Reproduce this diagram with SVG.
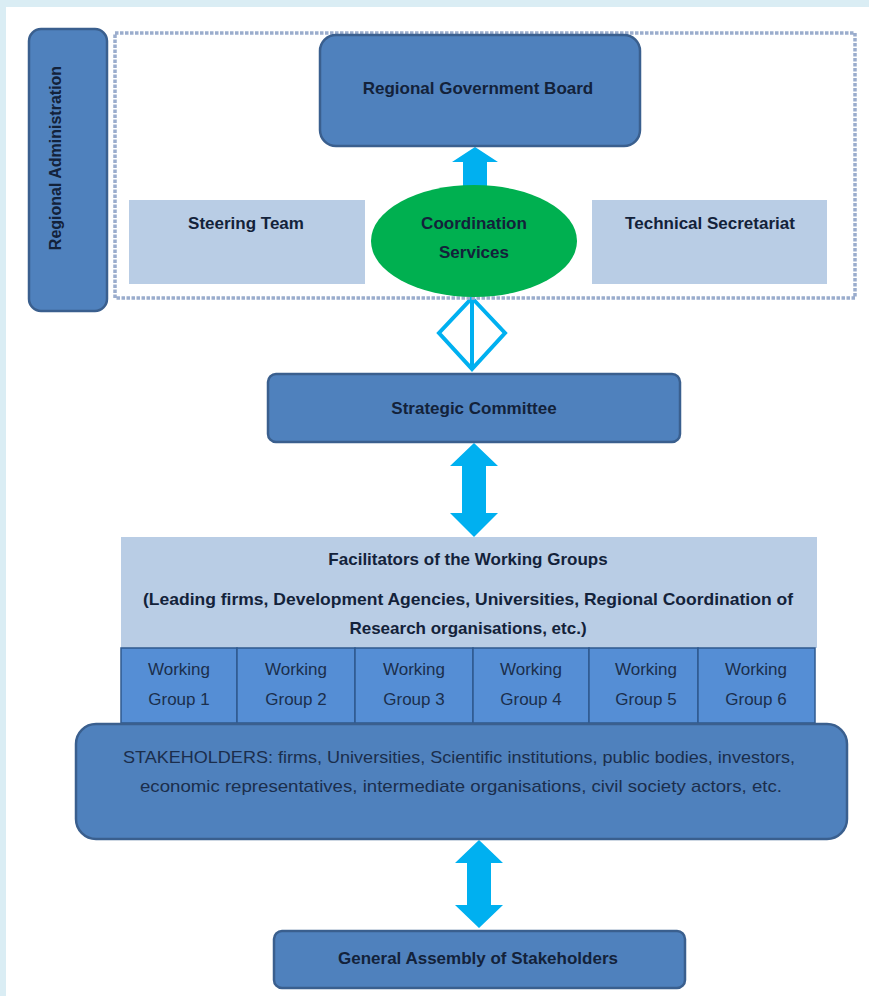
<svg xmlns="http://www.w3.org/2000/svg" width="869" height="996" viewBox="0 0 869 996">
<style>
.bg{fill:#daedf4}
.dark{fill:#4f81bd;stroke:#3a5f8e;stroke-width:2.5}
.light{fill:#b9cde5}
.wg{fill:#558ed5;stroke:#2f5a8f;stroke-width:1.5}
.arrow{fill:#00b0f0}
.b{font-family:"Liberation Sans",Arial,sans-serif;font-weight:bold;font-size:17px;fill:#13223a;text-anchor:middle}
.n{font-family:"Liberation Sans",Arial,sans-serif;font-size:17px;fill:#1b2e4c;text-anchor:middle}
</style>
<rect class="bg" x="0" y="0" width="869" height="996"/>
<rect x="6" y="7" width="863" height="989" fill="#ffffff"/>

<g id="connectors">
  <polygon class="arrow" points="475,147 498,162 487,162 487,190 463,190 463,162 452,162"/>
  <g fill="none" stroke="#00b0f0" stroke-width="4">
    <polygon points="472,298 505,333 472,369 439,333"/>
    <line x1="472" y1="298" x2="472" y2="369"/>
  </g>
  <polygon class="arrow" points="474,443 498,466 486,466 486,513 498,513 474,537 450,513 462,513 462,466 450,466"/>
  <polygon class="arrow" points="479,840 503,863 491,863 491,905 503,905 479,928 455,905 467,905 467,863 455,863"/>
</g>

<g id="dotted-frame">
  <rect x="115" y="33" width="740" height="265" fill="none" stroke="#9badcd" stroke-width="3.5" stroke-dasharray="3.5 1.5"/>
</g>

<g id="regional-administration">
  <rect class="dark" x="29" y="29" width="78" height="282" rx="12"/>
  <text class="b" transform="translate(61,158) rotate(-90)" style="font-size:16px">Regional Administration</text>
</g>

<g id="regional-government-board">
  <rect class="dark" x="320" y="35" width="320" height="111" rx="16"/>
  <text class="b" x="478" y="94">Regional Government Board</text>
</g>

<g id="steering-team">
  <rect class="light" x="129" y="200" width="236" height="84"/>
  <text class="b" x="246" y="229">Steering Team</text>
</g>

<g id="technical-secretariat">
  <rect class="light" x="592" y="200" width="235" height="84"/>
  <text class="b" x="710" y="229">Technical Secretariat</text>
</g>

<g id="coordination-services">
  <ellipse cx="474" cy="241" rx="103" ry="56" fill="#00b050"/>
  <text class="b" x="474" y="229">Coordination</text>
  <text class="b" x="474" y="258">Services</text>
</g>

<g id="strategic-committee">
  <rect class="dark" x="268" y="374" width="412" height="68" rx="8"/>
  <text class="b" x="474" y="414">Strategic Committee</text>
</g>

<g id="facilitators">
  <rect class="light" x="121" y="537" width="696" height="111"/>
  <text class="b" x="468" y="565">Facilitators of the Working Groups</text>
  <text class="b" x="468" y="605" textLength="650" lengthAdjust="spacingAndGlyphs">(Leading firms, Development Agencies, Universities, Regional Coordination of</text>
  <text class="b" x="468" y="634">Research organisations, etc.)</text>
</g>

<g id="working-group-1">
  <rect class="wg" x="121" y="648" width="116" height="75"/>
  <text class="n" x="179" y="675">Working</text>
  <text class="n" x="179" y="705">Group 1</text>
</g>
<g id="working-group-2">
  <rect class="wg" x="237" y="648" width="118" height="75"/>
  <text class="n" x="296" y="675">Working</text>
  <text class="n" x="296" y="705">Group 2</text>
</g>
<g id="working-group-3">
  <rect class="wg" x="355" y="648" width="118" height="75"/>
  <text class="n" x="414" y="675">Working</text>
  <text class="n" x="414" y="705">Group 3</text>
</g>
<g id="working-group-4">
  <rect class="wg" x="473" y="648" width="116" height="75"/>
  <text class="n" x="531" y="675">Working</text>
  <text class="n" x="531" y="705">Group 4</text>
</g>
<g id="working-group-5">
  <rect class="wg" x="589" y="648" width="109" height="75"/>
  <text class="n" x="646" y="675">Working</text>
  <text class="n" x="646" y="705">Group 5</text>
</g>
<g id="working-group-6">
  <rect class="wg" x="698" y="648" width="117" height="75"/>
  <text class="n" x="756" y="675">Working</text>
  <text class="n" x="756" y="705">Group 6</text>
</g>

<g id="stakeholders">
  <rect class="dark" x="76" y="724" width="771" height="115" rx="20"/>
  <text class="n" x="459" y="763" textLength="672" lengthAdjust="spacingAndGlyphs">STAKEHOLDERS: firms, Universities, Scientific institutions, public bodies, investors,</text>
  <text class="n" x="461" y="792" textLength="642" lengthAdjust="spacingAndGlyphs">economic representatives, intermediate organisations, civil society actors, etc.</text>
</g>

<g id="general-assembly">
  <rect class="dark" x="274" y="931" width="411" height="57" rx="8"/>
  <text class="b" x="478" y="964">General Assembly of Stakeholders</text>
</g>
</svg>
